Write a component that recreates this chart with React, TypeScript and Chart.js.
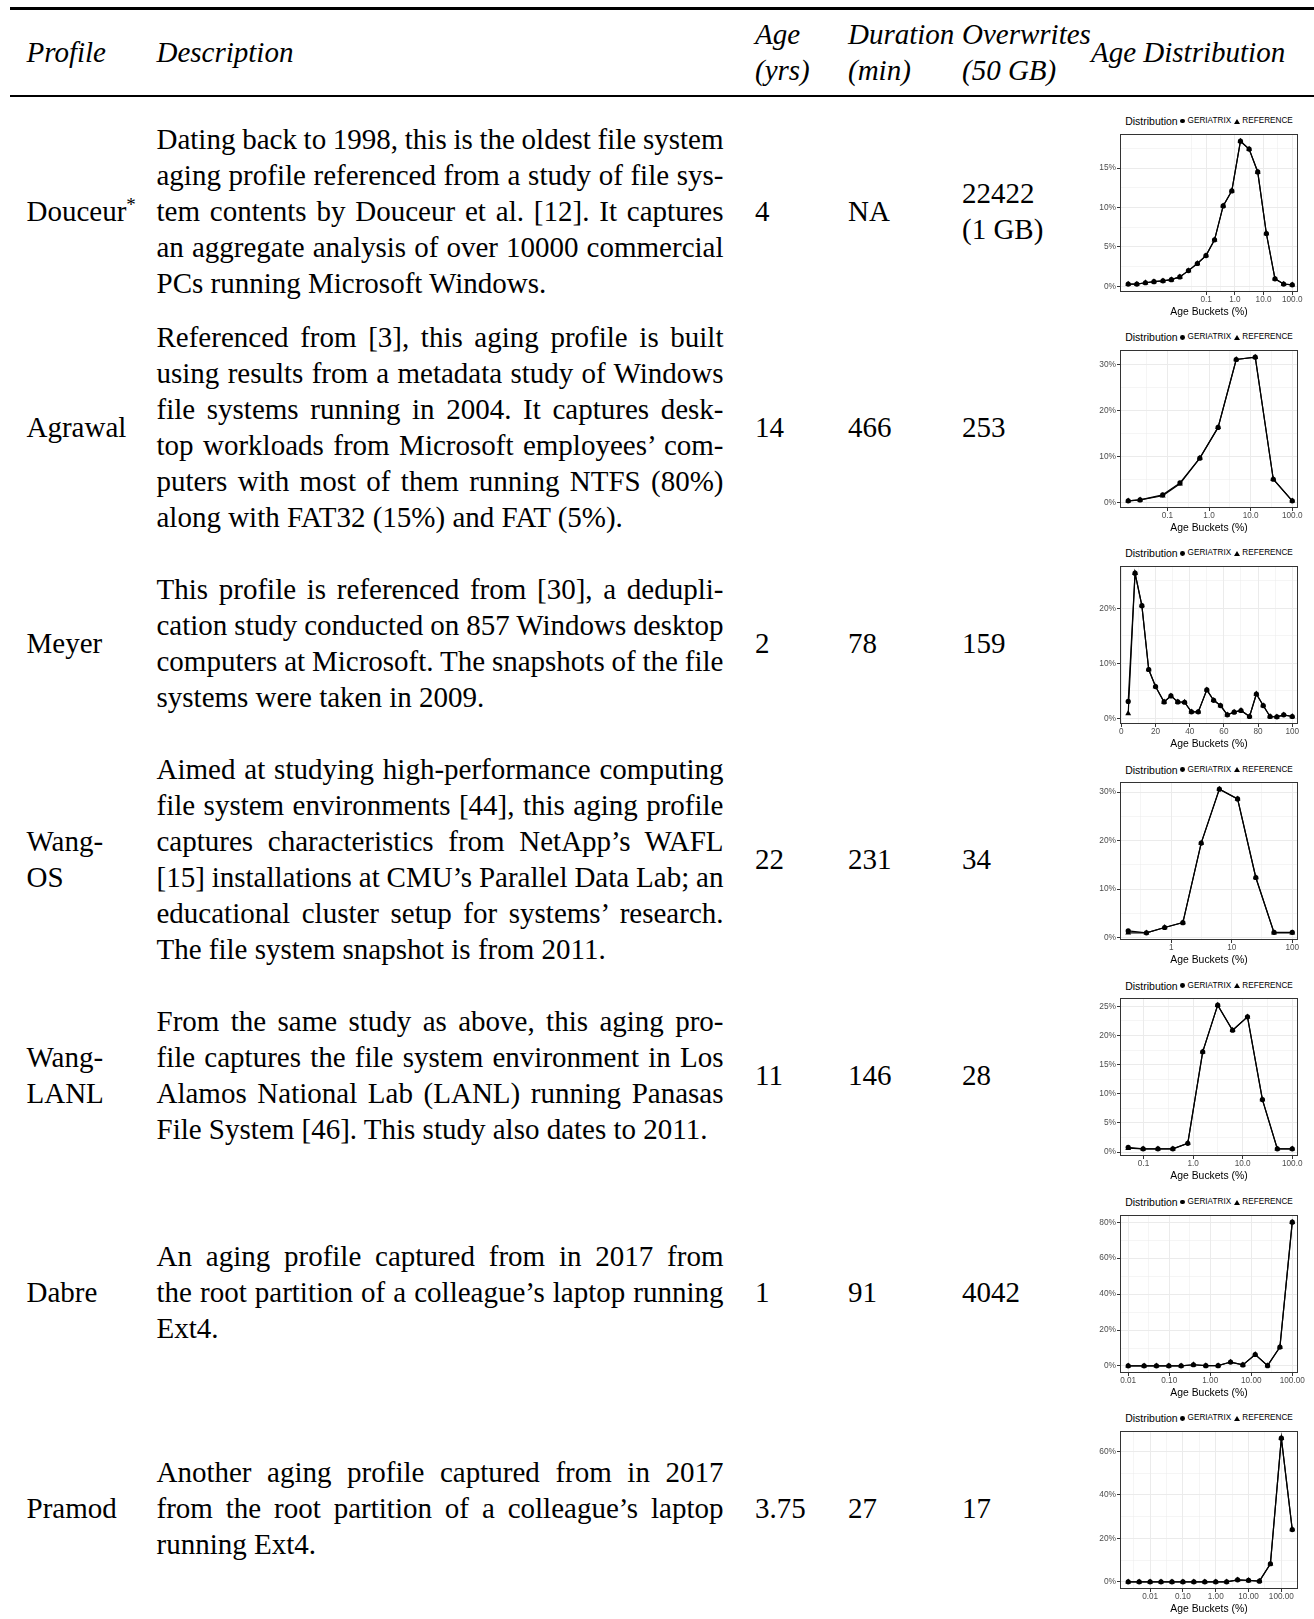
import React, { useEffect, useRef } from "react";
import { Chart, registerables } from "chart.js";

Chart.register(...registerables);
Chart.defaults.font.family = "'Liberation Sans', Arial, sans-serif";

// ---------------- Table content ----------------
const headerProfile = "Profile";
const headerDescription = "Description";
const headerAge = ["Age", "(yrs)"];
const headerDuration = ["Duration", "(min)"];
const headerOverwrites = ["Overwrites", "(50 GB)"];
const headerDistribution = "Age Distribution";

const profileNames = ["Douceur", "Agrawal", "Meyer", "Wang-\nOS", "Wang-\nLANL", "Dabre", "Pramod"];
const profileMarks = ["*", "", "", "", "", "", ""];
const ageYears = ["4", "14", "2", "22", "11", "1", "3.75"];
const durationMin = ["NA", "466", "78", "231", "146", "91", "27"];
const overwrites50GB = ["22422\n(1 GB)", "253", "159", "34", "28", "4042", "17"];

const descriptions: string[][] = [
  [
    "Dating back to 1998, this is the oldest file system",
    "aging profile referenced from a study of file sys-",
    "tem contents by Douceur et al. [12]. It captures",
    "an aggregate analysis of over 10000 commercial",
    "PCs running Microsoft Windows.",
  ],
  [
    "Referenced from [3], this aging profile is built",
    "using results from a metadata study of Windows",
    "file systems running in 2004. It captures desk-",
    "top workloads from Microsoft employees\u2019 com-",
    "puters with most of them running NTFS (80%)",
    "along with FAT32 (15%) and FAT (5%).",
  ],
  [
    "This profile is referenced from [30], a dedupli-",
    "cation study conducted on 857 Windows desktop",
    "computers at Microsoft. The snapshots of the file",
    "systems were taken in 2009.",
  ],
  [
    "Aimed at studying high-performance computing",
    "file system environments [44], this aging profile",
    "captures characteristics from NetApp\u2019s WAFL",
    "[15] installations at CMU\u2019s Parallel Data Lab; an",
    "educational cluster setup for systems\u2019 research.",
    "The file system snapshot is from 2011.",
  ],
  [
    "From the same study as above, this aging pro-",
    "file captures the file system environment in Los",
    "Alamos National Lab (LANL) running Panasas",
    "File System [46]. This study also dates to 2011.",
  ],
  [
    "An aging profile captured from in 2017 from",
    "the root partition of a colleague\u2019s laptop running",
    "Ext4.",
  ],
  [
    "Another aging profile captured from in 2017",
    "from the root partition of a colleague\u2019s laptop",
    "running Ext4.",
  ],
];

// ---------------- Chart data (Age Buckets %, share %) ----------------
const douceurX = [0.00019, 0.00038, 0.00076, 0.0015, 0.0031, 0.0061, 0.012, 0.024, 0.049, 0.098, 0.195, 0.39, 0.78, 1.56, 3.13, 6.25, 12.5, 25, 50, 100];
const douceurGeriatrix = [0.3, 0.3, 0.46, 0.6, 0.7, 0.85, 1.2, 2.0, 2.9, 3.9, 5.9, 10.2, 12.1, 18.4, 17.4, 14.5, 6.7, 0.96, 0.3, 0.2];
const douceurReference = [0.3, 0.3, 0.46, 0.6, 0.7, 0.85, 1.2, 2.0, 2.9, 3.9, 5.9, 10.2, 12.1, 18.4, 17.4, 14.5, 6.7, 0.96, 0.3, 0.2];

const agrawalX = [0.0114, 0.022, 0.077, 0.2, 0.6, 1.65, 4.5, 12.9, 35, 100];
const agrawalGeriatrix = [0.3, 0.5, 1.6, 4.2, 9.6, 16.3, 31.1, 31.6, 5.0, 0.3];
const agrawalReference = [0.3, 0.5, 1.4, 4.0, 9.6, 16.3, 31.1, 31.6, 5.0, 0.3];

const meyerX = [4, 8, 12, 16, 20, 25, 29, 33, 37, 41, 45, 50, 54, 58, 62, 66, 70, 75, 79, 83, 87, 91, 95, 100];
const meyerGeriatrix = [3.1, 26.4, 20.5, 8.9, 5.8, 3.0, 4.1, 3.0, 2.95, 1.2, 1.2, 5.2, 3.3, 2.35, 0.66, 1.15, 1.45, 0.36, 4.45, 2.35, 0.36, 0.3, 0.66, 0.36];
const meyerReference = [0.9, 26.4, 20.5, 8.9, 5.8, 3.0, 4.1, 3.0, 2.95, 1.2, 1.2, 5.2, 3.3, 2.35, 0.66, 1.15, 1.45, 0.36, 4.45, 2.35, 0.36, 0.3, 0.66, 0.36];

const wangOsX = [0.195, 0.39, 0.78, 1.56, 3.13, 6.25, 12.5, 25, 50, 100];
const wangOsGeriatrix = [1.4, 1.0, 2.1, 3.1, 19.5, 30.6, 28.6, 12.4, 1.1, 1.1];
const wangOsReference = [1.0, 1.0, 2.1, 3.1, 19.5, 30.6, 28.6, 12.4, 1.0, 1.0];

const wangLanlX = [0.049, 0.098, 0.195, 0.39, 0.78, 1.56, 3.13, 6.25, 12.5, 25, 50, 100];
const wangLanlGeriatrix = [0.8, 0.55, 0.55, 0.55, 1.5, 17.2, 25.2, 20.9, 23.2, 9.0, 0.55, 0.55];
const wangLanlReference = [0.65, 0.55, 0.55, 0.55, 1.5, 17.2, 25.2, 20.9, 23.2, 9.0, 0.55, 0.55];

const dabreX = [0.01, 0.0244, 0.0488, 0.0977, 0.195, 0.39, 0.78, 1.56, 3.13, 6.25, 12.5, 25, 50, 100];
const dabreGeriatrix = [0.1, 0.1, 0.1, 0.1, 0.1, 0.7, 0.2, 0.2, 2.2, 0.6, 6.4, 0.2, 10.5, 80.0];
const dabreReference = [0.1, 0.1, 0.1, 0.1, 0.1, 0.7, 0.2, 0.2, 2.2, 0.6, 6.4, 0.2, 10.5, 80.0];

const pramodX = [0.00215, 0.00464, 0.01, 0.0215, 0.0464, 0.1, 0.215, 0.464, 1, 2.15, 4.64, 10, 21.5, 46.4, 100, 215];
const pramodGeriatrix = [0, 0, 0, 0, 0, 0, 0, 0, 0, 0, 0.9, 0.7, 0.3, 8.3, 66, 24];
const pramodReference = [0, 0, 0, 0, 0, 0, 0, 0, 0, 0, 0.9, 0.6, 0.3, 8.3, 66, 24];

// ---------------- Axis ticks ----------------
const logMajor1 = [0.1, 1, 10, 100];
const logLabels1 = ["0.1", "1.0", "10.0", "100.0"];
const logMinor1 = [0.0316, 0.316, 3.16, 31.6];
const linMajor = [0, 20, 40, 60, 80, 100];
const linLabels = ["0", "20", "40", "60", "80", "100"];
const linMinor = [10, 30, 50, 70, 90];
const logMajor2 = [1, 10, 100];
const logLabels2 = ["1", "10", "100"];
const logMinor2 = [0.316, 3.16, 31.6];
const logMajor3 = [0.01, 0.1, 1, 10, 100];
const logLabels3 = ["0.01", "0.10", "1.00", "10.00", "100.00"];
const logMinor3 = [0.00316, 0.0316, 0.316, 3.16, 31.6];

const yMajor5 = [0, 5, 10, 15, 20, 25];
const yMinor5 = [2.5, 7.5, 12.5, 17.5, 22.5, 27.5];
const yMajor10 = [0, 10, 20, 30];
const yMinor10 = [5, 15, 25, 35];
const yMajor20 = [0, 20, 40, 60, 80];
const yMinor20 = [10, 30, 50, 70, 90];

type Spec = {
  x: number[];
  g: number[];
  r: number[];
  log: boolean;
  xMajor: number[];
  xLabels: string[];
  xMinor: number[];
  yMajor: number[];
  yMinor: number[];
};

const chartSpecs: Spec[] = [
  { x: douceurX, g: douceurGeriatrix, r: douceurReference, log: true, xMajor: logMajor1, xLabels: logLabels1, xMinor: logMinor1, yMajor: yMajor5, yMinor: yMinor5 },
  { x: agrawalX, g: agrawalGeriatrix, r: agrawalReference, log: true, xMajor: logMajor1, xLabels: logLabels1, xMinor: logMinor1, yMajor: yMajor10, yMinor: yMinor10 },
  { x: meyerX, g: meyerGeriatrix, r: meyerReference, log: false, xMajor: linMajor, xLabels: linLabels, xMinor: linMinor, yMajor: yMajor10, yMinor: yMinor10 },
  { x: wangOsX, g: wangOsGeriatrix, r: wangOsReference, log: true, xMajor: logMajor2, xLabels: logLabels2, xMinor: logMinor2, yMajor: yMajor10, yMinor: yMinor10 },
  { x: wangLanlX, g: wangLanlGeriatrix, r: wangLanlReference, log: true, xMajor: logMajor1, xLabels: logLabels1, xMinor: logMinor1, yMajor: yMajor5, yMinor: yMinor5 },
  { x: dabreX, g: dabreGeriatrix, r: dabreReference, log: true, xMajor: logMajor3, xLabels: logLabels3, xMinor: logMinor3, yMajor: yMajor20, yMinor: yMinor20 },
  { x: pramodX, g: pramodGeriatrix, r: pramodReference, log: true, xMajor: logMajor3, xLabels: logLabels3, xMinor: logMinor3, yMajor: yMajor20, yMinor: yMinor20 },
];

// ---------------- Layout constants ----------------
const ROW_TOP0 = 102.5;
const ROW_H = 216.2;
const SERIF = "'Liberation Serif', 'Times New Roman', serif";
const SANS = "'Liberation Sans', Arial, sans-serif";

const panelBorder = {
  id: "panelBorder",
  afterDatasetsDraw(chart: any) {
    const { ctx, chartArea: a } = chart;
    ctx.save();
    ctx.strokeStyle = "#333333";
    ctx.lineWidth = 1;
    ctx.strokeRect(Math.round(a.left) + 0.5, Math.round(a.top) + 0.5, Math.round(a.right - a.left) - 1, Math.round(a.bottom - a.top) - 1);
    ctx.restore();
  },
};

function AgeChart({ spec }: { spec: Spec }) {
  const ref = useRef<HTMLCanvasElement | null>(null);
  useEffect(() => {
    if (!ref.current) return;
    const tf = (v: number) => (spec.log ? Math.log10(v) : v);
    const itf = (v: number) => (spec.log ? Math.pow(10, v) : v);
    const xs = spec.x.map(tf);
    const lo = Math.min(...xs);
    const hi = Math.max(...xs);
    const span = hi - lo;
    const xMin = itf(lo - 0.05 * span);
    const xMax = itf(hi + 0.035 * span);
    const ys = [...spec.g, ...spec.r];
    const yLo = Math.min(...ys);
    const yHi = Math.max(...ys);
    const ySpan = yHi - yLo;
    const yMin = yLo - 0.05 * ySpan;
    const yMax = yHi + 0.05 * ySpan;

    const near = (a: number, b: number) => Math.abs(a - b) <= 1e-9 + Math.abs(b) * 1e-6;
    const xMajorIdx = (v: number) => spec.xMajor.findIndex((m) => near(v, m));
    const isXMajor = (v: number) => xMajorIdx(v) >= 0;
    const isYMajor = (v: number) => spec.yMajor.some((m) => near(v, m));

    const gridFor = (isMajor: (v: number) => boolean) => ({
      display: true,
      drawOnChartArea: true,
      drawTicks: true,
      tickLength: 3,
      color: "#EBEBEB",
      lineWidth: (ctx: any) => (ctx.tick && isMajor(ctx.tick.value) ? 1 : 0.5),
      tickColor: (ctx: any) => (ctx.tick && isMajor(ctx.tick.value) ? "#333333" : "rgba(0,0,0,0)"),
      tickWidth: 1,
    });
    const zeroPad = (s: any) => {
      s.paddingTop = 0;
      s.paddingBottom = 0;
      s.paddingLeft = 0;
      s.paddingRight = 0;
    };

    const chart = new Chart(ref.current, {
      type: "line",
      data: {
        datasets: [
          {
            label: "GERIATRIX",
            data: spec.x.map((x, i) => ({ x, y: spec.g[i] })),
            borderColor: "#000000",
            backgroundColor: "#000000",
            borderWidth: 1.2,
            pointStyle: "circle",
            pointRadius: 2.6,
            pointBorderWidth: 0,
            pointBackgroundColor: "#000000",
            tension: 0,
            fill: false,
          },
          {
            label: "REFERENCE",
            data: spec.x.map((x, i) => ({ x, y: spec.r[i] })),
            borderColor: "#000000",
            backgroundColor: "#000000",
            borderWidth: 1.2,
            pointStyle: "triangle",
            pointRadius: 3.4,
            pointBorderWidth: 0,
            pointBackgroundColor: "#000000",
            tension: 0,
            fill: false,
          },
        ],
      },
      options: {
        responsive: false,
        animation: false,
        devicePixelRatio: 1,
        layout: { padding: { top: 5, right: 8, bottom: 0, left: 0 } },
        plugins: { legend: { display: false }, tooltip: { enabled: false } },
        scales: {
          x: {
            type: spec.log ? "logarithmic" : "linear",
            min: xMin,
            max: xMax,
            bounds: "data",
            grid: gridFor(isXMajor),
            border: { display: false },
            ticks: {
              autoSkip: false,
              maxRotation: 0,
              minRotation: 0,
              padding: 0,
              color: "#4D4D4D",
              font: { size: 8.2, family: SANS },
              callback: (v: any) => {
                const i = xMajorIdx(Number(v));
                return i >= 0 ? spec.xLabels[i] : "";
              },
            },
            title: {
              display: true,
              text: "Age Buckets (%)",
              color: "#000000",
              font: { size: 10.4, family: SANS },
              padding: { top: 0, bottom: 2.6 },
            },
            afterBuildTicks: (scale: any) => {
              scale.ticks = [...spec.xMajor, ...spec.xMinor]
                .filter((v) => v >= scale.min && v <= scale.max)
                .sort((a, b) => a - b)
                .map((v) => ({ value: v }));
            },
            afterFit: (scale: any) => {
              scale.height = 29;
              zeroPad(scale);
            },
          },
          y: {
            type: "linear",
            min: yMin,
            max: yMax,
            bounds: "data",
            grid: gridFor(isYMajor),
            border: { display: false },
            ticks: {
              autoSkip: false,
              padding: 1,
              color: "#4D4D4D",
              font: { size: 8.4, family: SANS },
              callback: (v: any) => (isYMajor(Number(v)) ? `${Math.round(Number(v))}%` : ""),
            },
            afterBuildTicks: (scale: any) => {
              scale.ticks = [...spec.yMajor, ...spec.yMinor]
                .filter((v) => v >= scale.min && v <= scale.max)
                .sort((a, b) => a - b)
                .map((v) => ({ value: v }));
            },
            afterFit: (scale: any) => {
              scale.width = 26;
              zeroPad(scale);
            },
          },
        },
      } as any,
      plugins: [panelBorder],
    });
    return () => chart.destroy();
  }, [spec]);
  return <canvas ref={ref} width={212} height={192} style={{ display: "block", width: 212, height: 192 }} />;
}

function Legend() {
  return (
    <div
      style={{
        display: "flex",
        justifyContent: "center",
        alignItems: "center",
        fontFamily: SANS,
        color: "#000",
        whiteSpace: "nowrap",
        height: 12,
        lineHeight: "12px",
      }}
    >
      <span style={{ fontSize: 10.5 }}>Distribution</span>
      <span style={{ display: "inline-block", width: 4.8, height: 4.8, borderRadius: "50%", background: "#000", marginLeft: 2.5, marginRight: 2.6 }} />
      <span style={{ fontSize: 8.2 }}>GERIATRIX</span>
      <span
        style={{
          display: "inline-block",
          width: 0,
          height: 0,
          borderLeft: "3px solid transparent",
          borderRight: "3px solid transparent",
          borderBottom: "5.2px solid #000",
          marginLeft: 3,
          marginRight: 2.2,
        }}
      />
      <span style={{ fontSize: 8.2 }}>REFERENCE</span>
    </div>
  );
}

function VCell({ left, top, height, width, children, italic }: any) {
  return (
    <div
      style={{
        position: "absolute",
        left,
        top,
        height,
        width,
        display: "flex",
        alignItems: "center",
        whiteSpace: "pre-line",
        lineHeight: "36px",
        fontStyle: italic ? "italic" : "normal",
      }}
    >
      <div>{children}</div>
    </div>
  );
}

const COL_PROFILE = 26.5;
const COL_DESC = 156.5;
const DESC_W = 567;
const COL_AGE = 755;
const COL_DUR = 848;
const COL_OVW = 962;
const COL_DIST = 1091;

export default function App() {
  return (
    <div
      style={{
        position: "absolute",
        left: 0,
        top: 0,
        width: 1314,
        height: 1619,
        background: "#fff",
        fontFamily: SERIF,
        fontSize: 29,
        color: "#000",
        overflow: "hidden",
      }}
    >
      {/* rules */}
      <div style={{ position: "absolute", left: 10, right: 0, top: 7, height: 2.5, background: "#000" }} />
      <div style={{ position: "absolute", left: 10, right: 0, top: 95.3, height: 1.6, background: "#000" }} />

      {/* header */}
      <VCell left={COL_PROFILE} top={16} height={72} italic>{headerProfile}</VCell>
      <VCell left={COL_DESC} top={16} height={72} italic>{headerDescription}</VCell>
      <VCell left={COL_AGE} top={16} height={72} italic>{headerAge.join("\n")}</VCell>
      <VCell left={COL_DUR} top={16} height={72} italic>{headerDuration.join("\n")}</VCell>
      <VCell left={COL_OVW} top={16} height={72} italic>{headerOverwrites.join("\n")}</VCell>
      <VCell left={COL_DIST} top={16} height={72} italic>{headerDistribution}</VCell>

      {/* body rows */}
      {profileNames.map((name, i) => {
        const top = ROW_TOP0 + i * ROW_H;
        const lines = descriptions[i];
        return (
          <React.Fragment key={name}>
            <VCell left={COL_PROFILE} top={top} height={ROW_H}>
              {name}
              {profileMarks[i] ? <sup style={{ fontSize: 19, lineHeight: 0, verticalAlign: "0.55em" }}>{profileMarks[i]}</sup> : null}
            </VCell>
            <div
              style={{
                position: "absolute",
                left: COL_DESC,
                top,
                height: ROW_H,
                width: DESC_W,
                display: "flex",
                alignItems: "center",
              }}
            >
              <div style={{ width: DESC_W }}>
                {lines.map((ln, j) => {
                  const last = j === lines.length - 1;
                  return (
                    <div
                      key={j}
                      style={{
                        height: 36,
                        lineHeight: "36px",
                        textAlign: last ? "left" : "justify",
                        textAlignLast: last ? "left" : "justify",
                        wordSpacing: last ? 0 : "-4px",
                      } as any}
                    >
                      {ln}
                    </div>
                  );
                })}
              </div>
            </div>
            <VCell left={COL_AGE} top={top} height={ROW_H}>{ageYears[i]}</VCell>
            <VCell left={COL_DUR} top={top} height={ROW_H}>{durationMin[i]}</VCell>
            <VCell left={COL_OVW} top={top} height={ROW_H}>{overwrites50GB[i]}</VCell>
            <div style={{ position: "absolute", left: 1120, width: 178, top: top + 12.5 }}>
              <Legend />
            </div>
            <div style={{ position: "absolute", left: 1094, top: top + 26 }}>
              <AgeChart spec={chartSpecs[i]} />
            </div>
          </React.Fragment>
        );
      })}
    </div>
  );
}
